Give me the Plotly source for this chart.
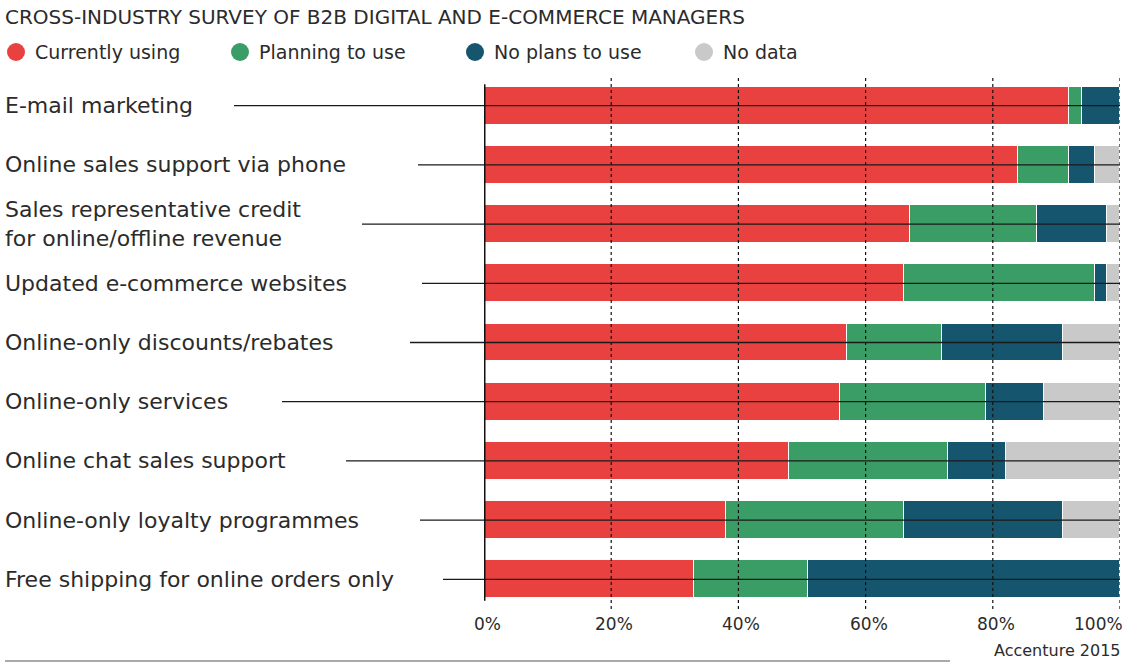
import plotly.graph_objects as go

# Survey items, top to bottom
categories = [
    "E-mail marketing",
    "Online sales support via phone",
    "Sales representative credit<br>for online/offline revenue",
    "Updated e-commerce websites",
    "Online-only discounts/rebates",
    "Online-only services",
    "Online chat sales support",
    "Online-only loyalty programmes",
    "Free shipping for online orders only",
]

# Share of respondents (%)
currently_using = [92, 84, 67, 66, 57, 56, 48, 38, 33]
planning_to_use = [2, 8, 20, 30, 15, 23, 25, 28, 18]
no_plans_to_use = [6, 4, 11, 2, 19, 9, 9, 25, 49]
no_data = [0, 4, 2, 2, 9, 12, 18, 9, 0]

series_names = ["Currently using", "Planning to use", "No plans to use", "No data"]
series_colors = ["#E8413F", "#3A9D66", "#15566E", "#C9C9C9"]

tick_values = [0, 20, 40, 60, 80, 100]
tick_labels = ["0%", "20%", "40%", "60%", "80%", "100%"]

title_text = "CROSS-INDUSTRY SURVEY OF B2B DIGITAL AND E-COMMERCE MANAGERS"
source_text = "Accenture 2015"

FONT = "DejaVu Sans"
TEXT = "#2b2b2b"
W, H = 1128, 666
M_L, M_R, M_T, M_B = 484, 8, 76, 57
PLOT_W = W - M_L - M_R
PLOT_H = H - M_T - M_B


def px_x(px):
    """Horizontal pixel position -> paper coordinate."""
    return (px - M_L) / PLOT_W


def px_y(py):
    """Vertical pixel position (from top) -> paper coordinate."""
    return (H - M_B - py) / PLOT_H


# pixel x where each leader line begins (just after its label)
leader_start_px = [234, 418, 362, 422, 410, 282, 346, 420, 443]

fig = go.Figure()
for name, vals, col in zip(series_names,
                           [currently_using, planning_to_use, no_plans_to_use, no_data],
                           series_colors):
    fig.add_trace(go.Bar(
        y=categories, x=vals, name=name, orientation="h",
        marker=dict(color=col, line=dict(color="white", width=1)),
        width=0.64, showlegend=False, hoverinfo="x+name",
    ))

shapes = []
# dotted gridlines over the bars
for t in tick_values[1:]:
    shapes.append(dict(type="line", xref="x", yref="paper", x0=t, x1=t, y0=0.0, y1=1.0,
                       line=dict(color="#111", width=1.2, dash="dot"), layer="above"))
# leader lines from labels through the bars
for cat, px in zip(categories, leader_start_px):
    shapes.append(dict(type="line", xref="paper", yref="y",
                       x0=px_x(px), x1=1.0, y0=cat, y1=cat,
                       line=dict(color="#1a1a1a", width=1.3), layer="above"))
# zero axis line
shapes.append(dict(type="line", xref="x", yref="y", x0=0, x1=0,
                   y0=-0.36, y1=len(categories) - 1 + 0.36,
                   line=dict(color="#111", width=3), layer="above"))
# bottom rule
shapes.append(dict(type="line", xref="paper", yref="paper",
                   x0=px_x(5), x1=px_x(950), y0=px_y(661), y1=px_y(661),
                   line=dict(color="#555", width=1.2)))

annotations = []
# category labels, left-aligned
for cat in categories:
    annotations.append(dict(text=cat, xref="paper", yref="y", x=px_x(3), y=cat,
                            xanchor="left", yanchor="middle", showarrow=False, align="left",
                            font=dict(family=FONT, size=22, color=TEXT)))
# axis tick labels
for v, lab in zip(tick_values, tick_labels):
    annotations.append(dict(text=lab, xref="x", yref="paper", x=v, y=px_y(624),
                            xanchor="right" if v == 100 else "center",
                            xshift=5 if v == 100 else 3, yanchor="middle",
                            showarrow=False, font=dict(family=FONT, size=17, color=TEXT)))
# title
annotations.append(dict(text=title_text, xref="paper", yref="paper",
                        x=px_x(3), y=px_y(17),
                        xanchor="left", yanchor="middle", showarrow=False,
                        font=dict(family=FONT, size=20, color=TEXT)))
# legend: circles and labels
legend_x = [16, 240, 475, 704]
for name, col, lx in zip(series_names, series_colors, legend_x):
    cy = px_y(52)
    rx = 9 / PLOT_W
    ry = 9 / PLOT_H
    cx = px_x(lx)
    shapes.append(dict(type="circle", xref="paper", yref="paper",
                       x0=cx - rx, x1=cx + rx, y0=cy - ry, y1=cy + ry,
                       fillcolor=col, line=dict(width=0)))
    annotations.append(dict(text=name, xref="paper", yref="paper",
                            x=px_x(lx + 17), y=cy, xanchor="left", yanchor="middle",
                            showarrow=False, font=dict(family=FONT, size=19, color=TEXT)))
# source
annotations.append(dict(text=source_text, xref="paper", yref="paper", x=1, xshift=3,
                        y=px_y(650), xanchor="right", yanchor="middle",
                        showarrow=False, font=dict(family=FONT, size=16, color=TEXT)))

fig.update_layout(
    barmode="stack", bargap=0,
    width=W, height=H,
    margin=dict(l=M_L, r=M_R, t=M_T, b=M_B),
    paper_bgcolor="white", plot_bgcolor="white",
    xaxis=dict(range=[0, 100], showgrid=False, zeroline=False, showticklabels=False,
               fixedrange=True),
    yaxis=dict(autorange="reversed", showticklabels=False, showgrid=False, zeroline=False,
               categoryorder="array", categoryarray=categories, fixedrange=True),
    shapes=shapes, annotations=annotations,
    font=dict(family=FONT, color=TEXT),
)

fig.write_html("out.html")
